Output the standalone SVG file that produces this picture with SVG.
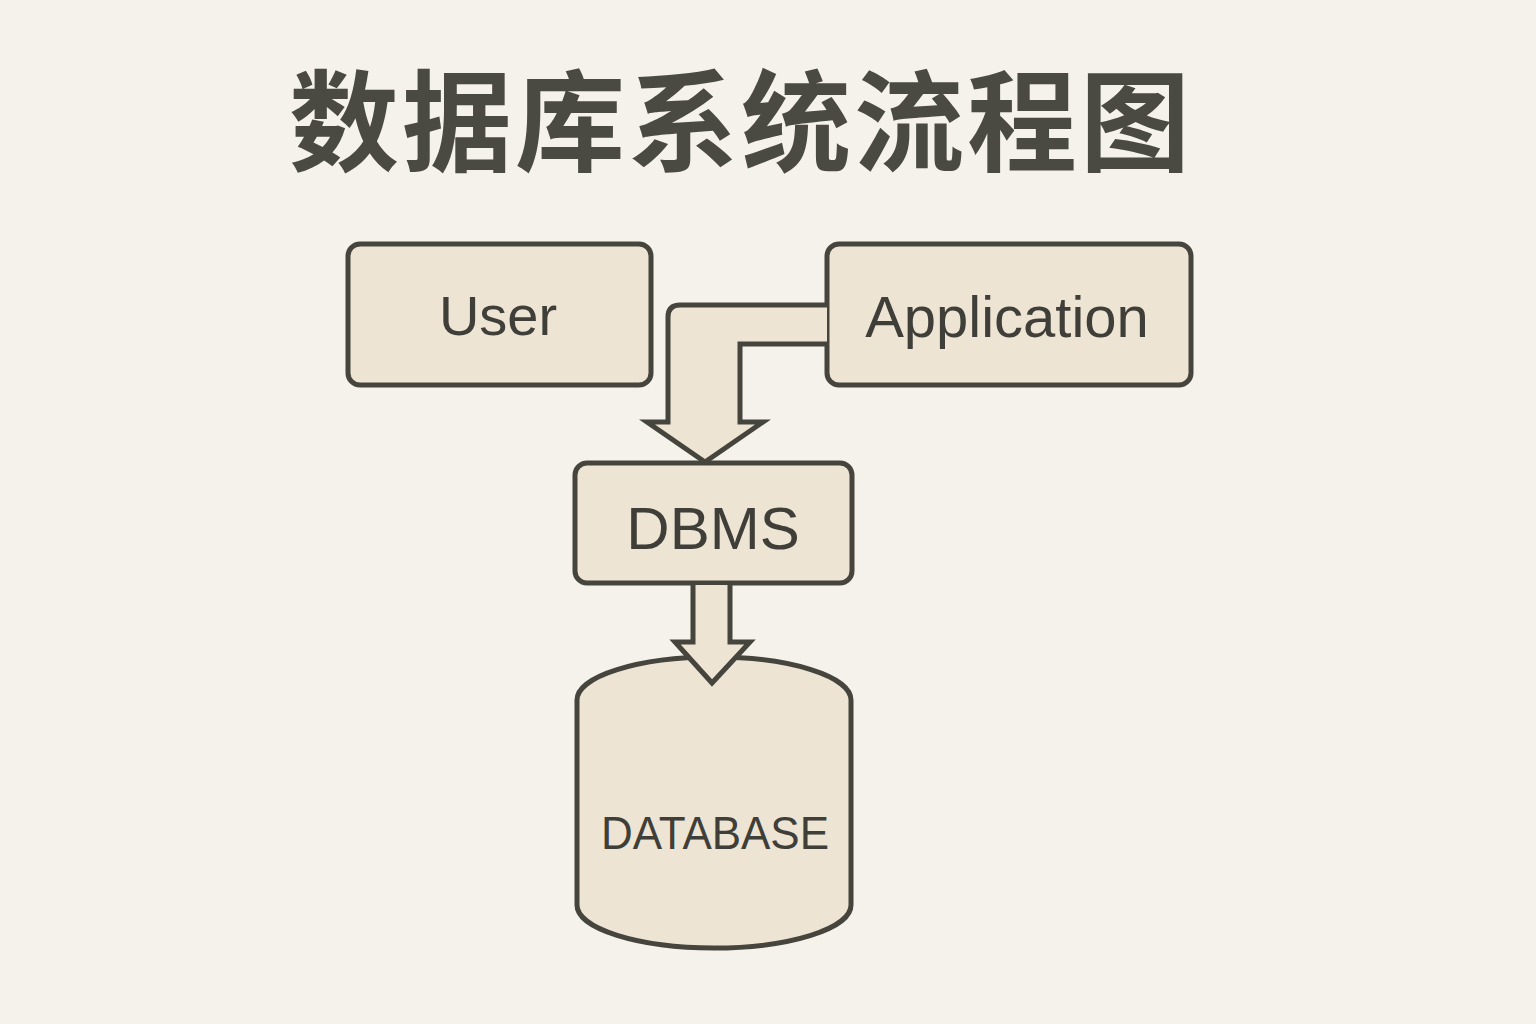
<svg xmlns="http://www.w3.org/2000/svg" width="1536" height="1024" viewBox="0 0 1536 1024">
<style>
.node{fill:#ede4d4;stroke:#45443d;stroke-width:5;stroke-linejoin:round}
.arrow{fill:#ede4d4;stroke:#45443d;stroke-width:5;stroke-linejoin:miter}
.lbl{font-family:"Liberation Sans",Arial,sans-serif;fill:#3f3e38;text-anchor:middle}
.title{font-family:"Noto Sans CJK SC",sans-serif;font-weight:700;fill:#4a4a43;text-anchor:middle}
</style>
<rect width="1536" height="1024" fill="#f5f1eb"/>
<text class="title" x="741" y="163" font-size="110" letter-spacing="3">数据库系统流程图</text>
<g id="user">
<rect class="node" x="348" y="244" width="303" height="141" rx="12"/>
<text class="lbl" x="498" y="335" font-size="56">User</text>
</g>
<g id="application">
<rect class="node" x="827" y="244" width="364" height="141" rx="12"/>
<text class="lbl" x="1007" y="337" font-size="58">Application</text>
</g>
<g id="dbms">
<rect class="node" x="575" y="463" width="277" height="120" rx="12"/>
<text class="lbl" x="713" y="549" font-size="60">DBMS</text>
</g>
<g id="database">
<path class="node" d="M577 700 A137 43 0 0 1 851 700 V905 A137 43 0 0 1 577 905 Z"/>
<text class="lbl" x="715" y="849" font-size="46" textLength="228" lengthAdjust="spacingAndGlyphs">DATABASE</text>
</g>
<g id="connectors">
<path class="arrow" d="M827 305 H680 Q668 305 668 317 V422 H647 L705 462 L763 422 H740 V344 H827"/>
<path class="arrow" d="M693 585 V642 H675 L712 683 L750 642 H730 V585"/>
</g>
</svg>
